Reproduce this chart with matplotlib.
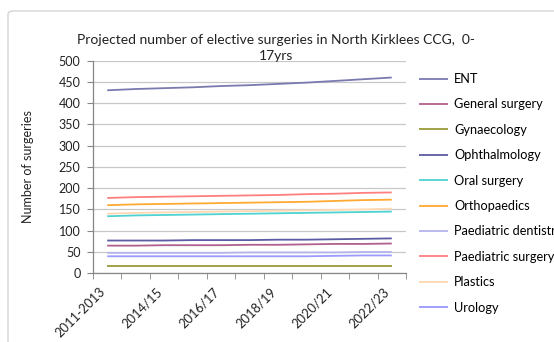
import matplotlib
matplotlib.use("Agg")
import matplotlib.pyplot as plt
from matplotlib.patches import FancyBboxPatch

plt.rcParams['font.family'] = ['Lato', 'DejaVu Sans']

title = "Projected number of elective surgeries in North Kirklees CCG,  0-\n17yrs"
y_label = "Number of surgeries"

periods = ["2011-2013", "2013/14", "2014/15", "2015/16", "2016/17", "2017/18",
           "2018/19", "2019/20", "2020/21", "2021/22", "2022/23"]

ent = [430, 433, 435, 437, 440, 442, 445, 448, 452, 456, 460]
general_surgery = [65, 65, 66, 66, 66, 67, 67, 68, 69, 69, 70]
gynaecology = [17, 17, 17, 17, 17, 17, 17, 17, 17, 17, 17]
ophthalmology = [77, 77, 77, 78, 78, 78, 79, 79, 80, 81, 82]
oral_surgery = [134, 136, 137, 138, 139, 140, 141, 142, 143, 144, 145]
orthopaedics = [160, 162, 163, 164, 165, 166, 167, 168, 170, 172, 173]
paediatric_dentistry = [48, 48, 48, 48, 48, 49, 49, 49, 49, 50, 50]
paediatric_surgery = [177, 179, 180, 181, 182, 183, 184, 186, 187, 189, 190]
plastics = [140, 142, 143, 144, 145, 146, 147, 148, 149, 150, 152]
urology = [40, 40, 40, 40, 40, 40, 40, 40, 41, 42, 42]

series = [
    ("ENT", ent, "#7a7ab0"),
    ("General surgery", general_surgery, "#b0608c"),
    ("Gynaecology", gynaecology, "#9a9a3c"),
    ("Ophthalmology", ophthalmology, "#5c5ca4"),
    ("Oral surgery", oral_surgery, "#4fd2d2"),
    ("Orthopaedics", orthopaedics, "#ffaa33"),
    ("Paediatric dentistry", paediatric_dentistry, "#b4b4ec"),
    ("Paediatric surgery", paediatric_surgery, "#ff7f7f"),
    ("Plastics", plastics, "#ffd7b0"),
    ("Urology", urology, "#9a9aff"),
]

W, H = 554, 342
fig = plt.figure(figsize=(W / 100, H / 100), dpi=100)

# chart frame, kept behind the axes
frame = FancyBboxPatch((8 / W, -0.2), 1.2, (H - 11) / H + 0.2,
                       boxstyle="round,pad=0,rounding_size=0.01",
                       transform=fig.transFigure, facecolor="white",
                       edgecolor="#d4d4d4", linewidth=1.0, zorder=-10)
fig.patches.append(frame)

left, right, top, bottom = 93, 406, 60.5, 273.3
ax = fig.add_axes([left / W, 1 - bottom / H, (right - left) / W, (bottom - top) / H])
ax.set_facecolor("none")
ax.set_zorder(1)

x = list(range(len(periods)))
for name, vals, color in series:
    ax.plot(x, vals, color=color, lw=1.3, label=name, solid_capstyle="butt")

ax.set_xlim(-0.5, len(periods) - 0.5)
ax.set_ylim(0, 500)
ax.set_yticks(range(0, 501, 50))
ax.grid(axis="y", color="#c8c8c8", lw=0.9)
ax.set_axisbelow(True)

# every other period is labelled, anchored at the lower right of each label
ax.set_xticks(x[::2])
ax.set_xticklabels(periods[::2], rotation=45, ha="right", va="bottom",
                   rotation_mode="anchor", fontsize=9.3, color="#222222")
ax.set_xticks([i - 0.5 for i in range(len(periods) + 1)], minor=True)
ax.tick_params(axis="x", which="major", length=0, pad=15)
ax.tick_params(axis="x", which="minor", length=4, color="#868686", direction="out")
ax.tick_params(axis="y", length=4, color="#868686", labelsize=9, labelcolor="#222222", pad=5)

for s in ("top", "right"):
    ax.spines[s].set_visible(False)
for s in ("left", "bottom"):
    ax.spines[s].set_color("#868686")
    ax.spines[s].set_linewidth(0.9)

fig.text(28 / W, 1 - 167 / H, y_label, rotation=90, ha="center", va="center",
         fontsize=9, color="#222222")
fig.text(276 / W, 1 - 48 / H, title, ha="center", va="center", fontsize=10,
         color="#222222", linespacing=1.5)

fig.legend(loc="upper left", bbox_to_anchor=(419 / W, 1 - 73 / H), frameon=False,
           fontsize=9.2, handlelength=2.3, handletextpad=0.45, labelspacing=1.05,
           borderaxespad=0, borderpad=0)

fig.savefig("out.png", dpi=100)
